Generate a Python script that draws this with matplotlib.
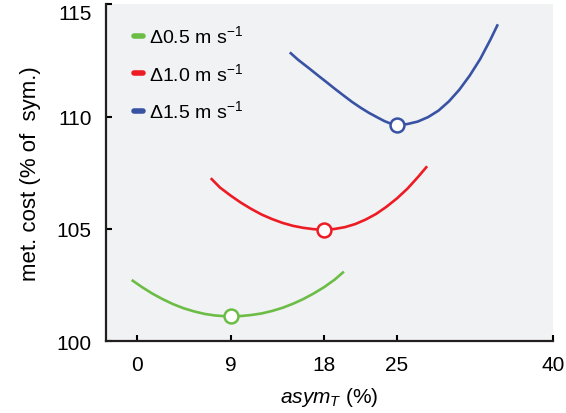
import matplotlib
matplotlib.use("Agg")
import matplotlib.pyplot as plt

plt.rcParams['font.family'] = ['Liberation Sans', 'DejaVu Sans']
plt.rcParams['mathtext.fontset'] = 'custom'
plt.rcParams['mathtext.rm'] = 'Liberation Sans'
plt.rcParams['mathtext.it'] = 'Liberation Sans:italic'

# curves: asymmetry (%) vs metabolic cost (% of sym.)
green_x = [-0.5, 0.5, 1.5, 2.5, 3.5, 4.5, 5.5, 6.5, 7.5, 8.5, 9, 10, 11, 12, 13, 14, 15, 16, 17, 18, 19, 19.9]
green_y = [102.73, 102.41, 102.12, 101.87, 101.65, 101.47, 101.33, 101.22, 101.15, 101.115, 101.11,
           101.125, 101.17, 101.24, 101.35, 101.49, 101.67, 101.88, 102.13, 102.41, 102.74, 103.10]

red_x = [7.1, 8, 9, 10, 11, 12, 13, 14, 15, 16, 17, 18, 19, 20, 21, 22, 23, 24, 25, 26, 27, 27.9]
red_y = [107.26, 106.84, 106.49, 106.17, 105.89, 105.64, 105.44, 105.27, 105.14, 105.05, 104.99, 104.97,
         105.00, 105.08, 105.22, 105.42, 105.67, 105.99, 106.36, 106.79, 107.30, 107.79]

blue_x = [14.7, 15.5, 16.5, 17.5, 18.3, 19, 19.9, 20.7, 21.5, 22.3, 23.1, 23.8, 24.4, 25,
          26, 27, 28, 29, 30, 31, 32, 33, 34, 34.7]
blue_y = [112.86, 112.53, 112.17, 111.80, 111.51, 111.25, 110.93, 110.65, 110.40, 110.17, 109.97, 109.80,
          109.69, 109.63, 109.67, 109.78, 109.98, 110.27, 110.68, 111.20, 111.83, 112.56, 113.44, 114.11]

minima_x = [9, 18, 25]
minima_y = [101.11, 104.97, 109.63]

labels = [r"Δ0.5 m s$^{\mathregular{-1}}$", r"Δ1.0 m s$^{\mathregular{-1}}$", r"Δ1.5 m s$^{\mathregular{-1}}$"]
colors = ['#6cbd45', '#ed1c24', '#3953a4']

xticks = [0, 9, 18, 25, 40]
yticks = [100, 105, 110, 115]

fig = plt.figure(figsize=(5.66, 4.14), dpi=100)
ax = fig.add_axes([0.1867, 0.1732, 0.7903, 0.8140])
ax.set_facecolor('#f1f2f4')

curves = [(green_x, green_y), (red_x, red_y), (blue_x, blue_y)]
for (xs, ys), c, lab in zip(curves, colors, labels):
    ax.plot(xs, ys, color=c, lw=1.9, label=lab, solid_capstyle='butt')

for mx, my, c in zip(minima_x, minima_y, colors):
    ax.plot(mx, my, 'o', ms=10, mfc='white', mec=c, mew=1.8, zorder=3)

ax.set_xlim(-3, 40)
ax.set_ylim(100, 115)
ax.set_xticks(xticks)
ax.set_yticks(yticks)
ax.tick_params(direction='in', length=4, width=1.5, labelsize=15, pad=10)
# top label sits just below the top of the axis, as in the original
ax.get_yticklabels()[-1].set_verticalalignment('top')
for side in ['top', 'right']:
    ax.spines[side].set_visible(False)
for side in ['left', 'bottom']:
    ax.spines[side].set_linewidth(1.6)
    ax.spines[side].set_color('#231f20')

ax.set_xlabel(r"$\mathit{asym}_{\mathit{T}}$ (%)", fontsize=15, labelpad=8)
ax.set_ylabel("met. cost (% of  sym.)", fontsize=16, labelpad=11)

leg = ax.legend(loc='upper left', bbox_to_anchor=(0.064, 0.94), frameon=False,
                fontsize=14, handlelength=0.45, handletextpad=0.3,
                labelspacing=0.8, borderpad=0, borderaxespad=0)
for line in leg.get_lines():
    line.set_linewidth(4)
    line.set_solid_capstyle('round')

fig.savefig('out.png', dpi=100)
